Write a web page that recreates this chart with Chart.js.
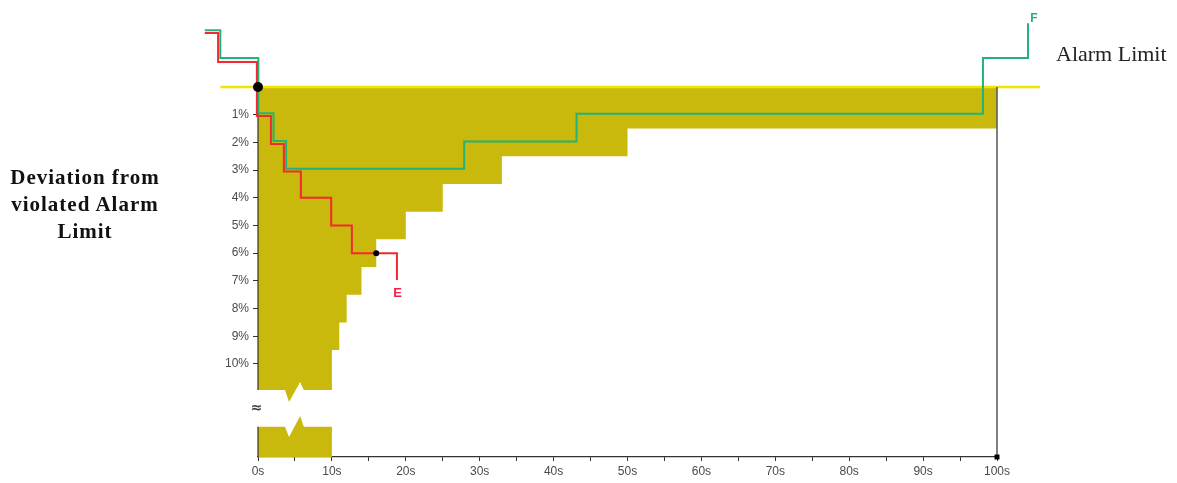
<!DOCTYPE html>
<html>
<head>
<meta charset="utf-8">
<script src="https://cdn.jsdelivr.net/npm/chart.js@4/dist/chart.umd.min.js"></script>
<style>
  body { margin: 0; background: #fff; }
  #wrap { position: relative; width: 1177px; height: 483px; }
  #titulo {
    position: absolute; left: 0; top: 164px; width: 170px;
    font: bold 21px "Liberation Serif", serif; line-height: 27px;
    letter-spacing: 1px; text-align: center; color: #111;
  }
  #limite {
    position: absolute; left: 1056px; top: 42px;
    font: 22px "Liberation Serif", serif; line-height: 24px; color: #222;
  }
</style>
</head>
<body>
<div id="wrap">
  <canvas id="grafico"></canvas>
  <div id="titulo">Deviation from<br>violated Alarm<br>Limit</div>
  <div id="limite">Alarm Limit</div>
</div>
<script>
// datos (segundos, % de desviacion)
const zonaFin = [100, 50, 33, 25, 20, 16, 14, 12, 11, 10];
const zonaProf = [1.5, 2.5, 3.5, 4.5, 5.5, 6.5, 7.5, 8.5, 9.5, 10.94];
const corteSup = [[0, 10.94], [3.65, 10.94], [4.2, 11.37], [5.7, 10.65], [6.2, 10.94], [10, 10.94]];
const corteInf = [[0, 12.27], [3.65, 12.27], [4.2, 12.64], [5.7, 11.88], [6.2, 12.27], [10, 12.27]];
const lineaF = [[-7.2, -2.05], [-5.1, -2.05], [-5.1, -1.05], [0.05, -1.05], [0.05, 0.95], [2.1, 0.95],
  [2.1, 1.95], [3.8, 1.95], [3.8, 2.95], [27.9, 2.95], [27.9, 1.97], [43.1, 1.97], [43.1, 0.97],
  [98.1, 0.97], [98.1, -1.05], [104.2, -1.05], [104.2, -2.3]];
const lineaE = [[-7.2, -1.95], [-5.4, -1.95], [-5.4, -0.9], [-0.15, -0.9], [-0.15, 1.05], [1.75, 1.05],
  [1.75, 2.06], [3.5, 2.06], [3.5, 3.05], [5.8, 3.05], [5.8, 4], [9.9, 4], [9.9, 5], [12.7, 5],
  [12.7, 6], [18.8, 6], [18.8, 6.97]];
const puntos = [[0, 0, 5], [16, 6, 3]];
const ticksY = [1, 2, 3, 4, 5, 6, 7, 8, 9, 10];
const yMax = 13.36;

const pt = a => a.map(p => ({ x: p[0], y: p[1] }));

// borde superior de la zona permitida (escalonado)
function bordeZona() {
  const res = [...corteSup];
  for (let i = zonaFin.length - 1; i >= 0; i--) {
    if (i < zonaFin.length - 1) res.push([zonaFin[i + 1], zonaProf[i]]);
    res.push([zonaFin[i], zonaProf[i]]);
  }
  return res;
}

const textos = {
  id: 'textos',
  afterDatasetsDraw(chart) {
    const { ctx, scales: { x, y } } = chart;
    ctx.save();
    ctx.textAlign = 'center';
    ctx.textBaseline = 'middle';
    ctx.font = 'bold 13px "Liberation Sans", Arial';
    ctx.fillStyle = '#f0204a';
    ctx.fillText('E', x.getPixelForValue(18.9), y.getPixelForValue(7.47));
    ctx.fillStyle = '#22b27a';
    ctx.font = 'bold 12px "Liberation Sans", Arial';
    ctx.fillText('F', x.getPixelForValue(105), y.getPixelForValue(-2.45));
    ctx.fillStyle = '#444';
    ctx.font = 'bold 14px "DejaVu Sans", Arial';
    ctx.fillText('\u2248', x.getPixelForValue(-0.2), y.getPixelForValue(11.59));
    ctx.restore();
  }
};

new Chart(document.getElementById('grafico'), {
  type: 'line',
  data: {
    datasets: [
      {
        data: puntos.map(p => ({ x: p[0], y: p[1] })),
        showLine: false, pointRadius: puntos.map(p => p[2]),
        pointBackgroundColor: '#000', pointBorderWidth: 0, clip: false,
      },
      { data: pt(lineaE), borderColor: '#f22a30', borderWidth: 2, pointRadius: 0, clip: false },
      { data: pt(lineaF), borderColor: '#22b27a', borderWidth: 2, pointRadius: 0, clip: false },
      {
        data: [{ x: 100, y: 0 }, { x: 100, y: yMax }], borderColor: '#555', borderWidth: 1.5,
        pointRadius: [0, 3.5], pointStyle: 'rect', pointBackgroundColor: '#000', pointBorderWidth: 0, clip: false,
      },
      {
        data: [{ x: 0, y: 0 }, { x: 0, y: 10.94 }, { x: 0, y: null }, { x: 0, y: 12.27 }, { x: 0, y: yMax }],
        borderColor: '#333', borderWidth: 1.2, pointRadius: 0, spanGaps: false, clip: false,
      },
      { data: [{ x: -5.1, y: 0 }, { x: 105.8, y: 0 }], borderColor: '#f3e400', borderWidth: 2.5, pointRadius: 0, clip: false },
      { data: pt(bordeZona()), borderWidth: 0, pointRadius: 0, fill: 'origin', backgroundColor: '#c9b90c' },
      { data: pt(corteInf), borderWidth: 0, pointRadius: 0, fill: 'start', backgroundColor: '#c9b90c' },
    ]
  },
  options: {
    responsive: true,
    maintainAspectRatio: false,
    animation: false,
    layout: { padding: { top: 87, right: 180, left: 0, bottom: 0 } },
    plugins: { legend: { display: false }, tooltip: { enabled: false } },
    scales: {
      x: {
        type: 'linear', bounds: 'data',
        // rango fijado aqui para que las lineas fuera del eje no se recorten
        afterDataLimits: s => { s.min = 0; s.max = 100; },
        afterFit: s => { s.height = 26; },
        border: { display: true, color: '#333', width: 1.2 },
        grid: { drawOnChartArea: false, drawTicks: true, tickLength: 4, color: '#333' },
        ticks: {
          stepSize: 5, autoSkip: false, maxRotation: 0, padding: 3,
          color: '#4a4a4a', font: { family: '"Liberation Sans", Arial', size: 12 },
          callback: v => (v % 10 === 0 ? v + 's' : ''),
        },
      },
      y: {
        type: 'linear', reverse: true, bounds: 'data',
        afterDataLimits: s => { s.min = 0; s.max = yMax; },
        afterFit: s => { s.width = 258; },
        afterBuildTicks: s => { s.ticks = ticksY.map(v => ({ value: v })); },
        border: { display: false },
        grid: { drawOnChartArea: false, drawTicks: true, tickLength: 5, color: '#333' },
        ticks: {
          padding: 4, color: '#4a4a4a', font: { family: '"Liberation Sans", Arial', size: 12 },
          callback: v => v + '%',
        },
      },
    },
  },
  plugins: [textos],
});
</script>
</body>
</html>
